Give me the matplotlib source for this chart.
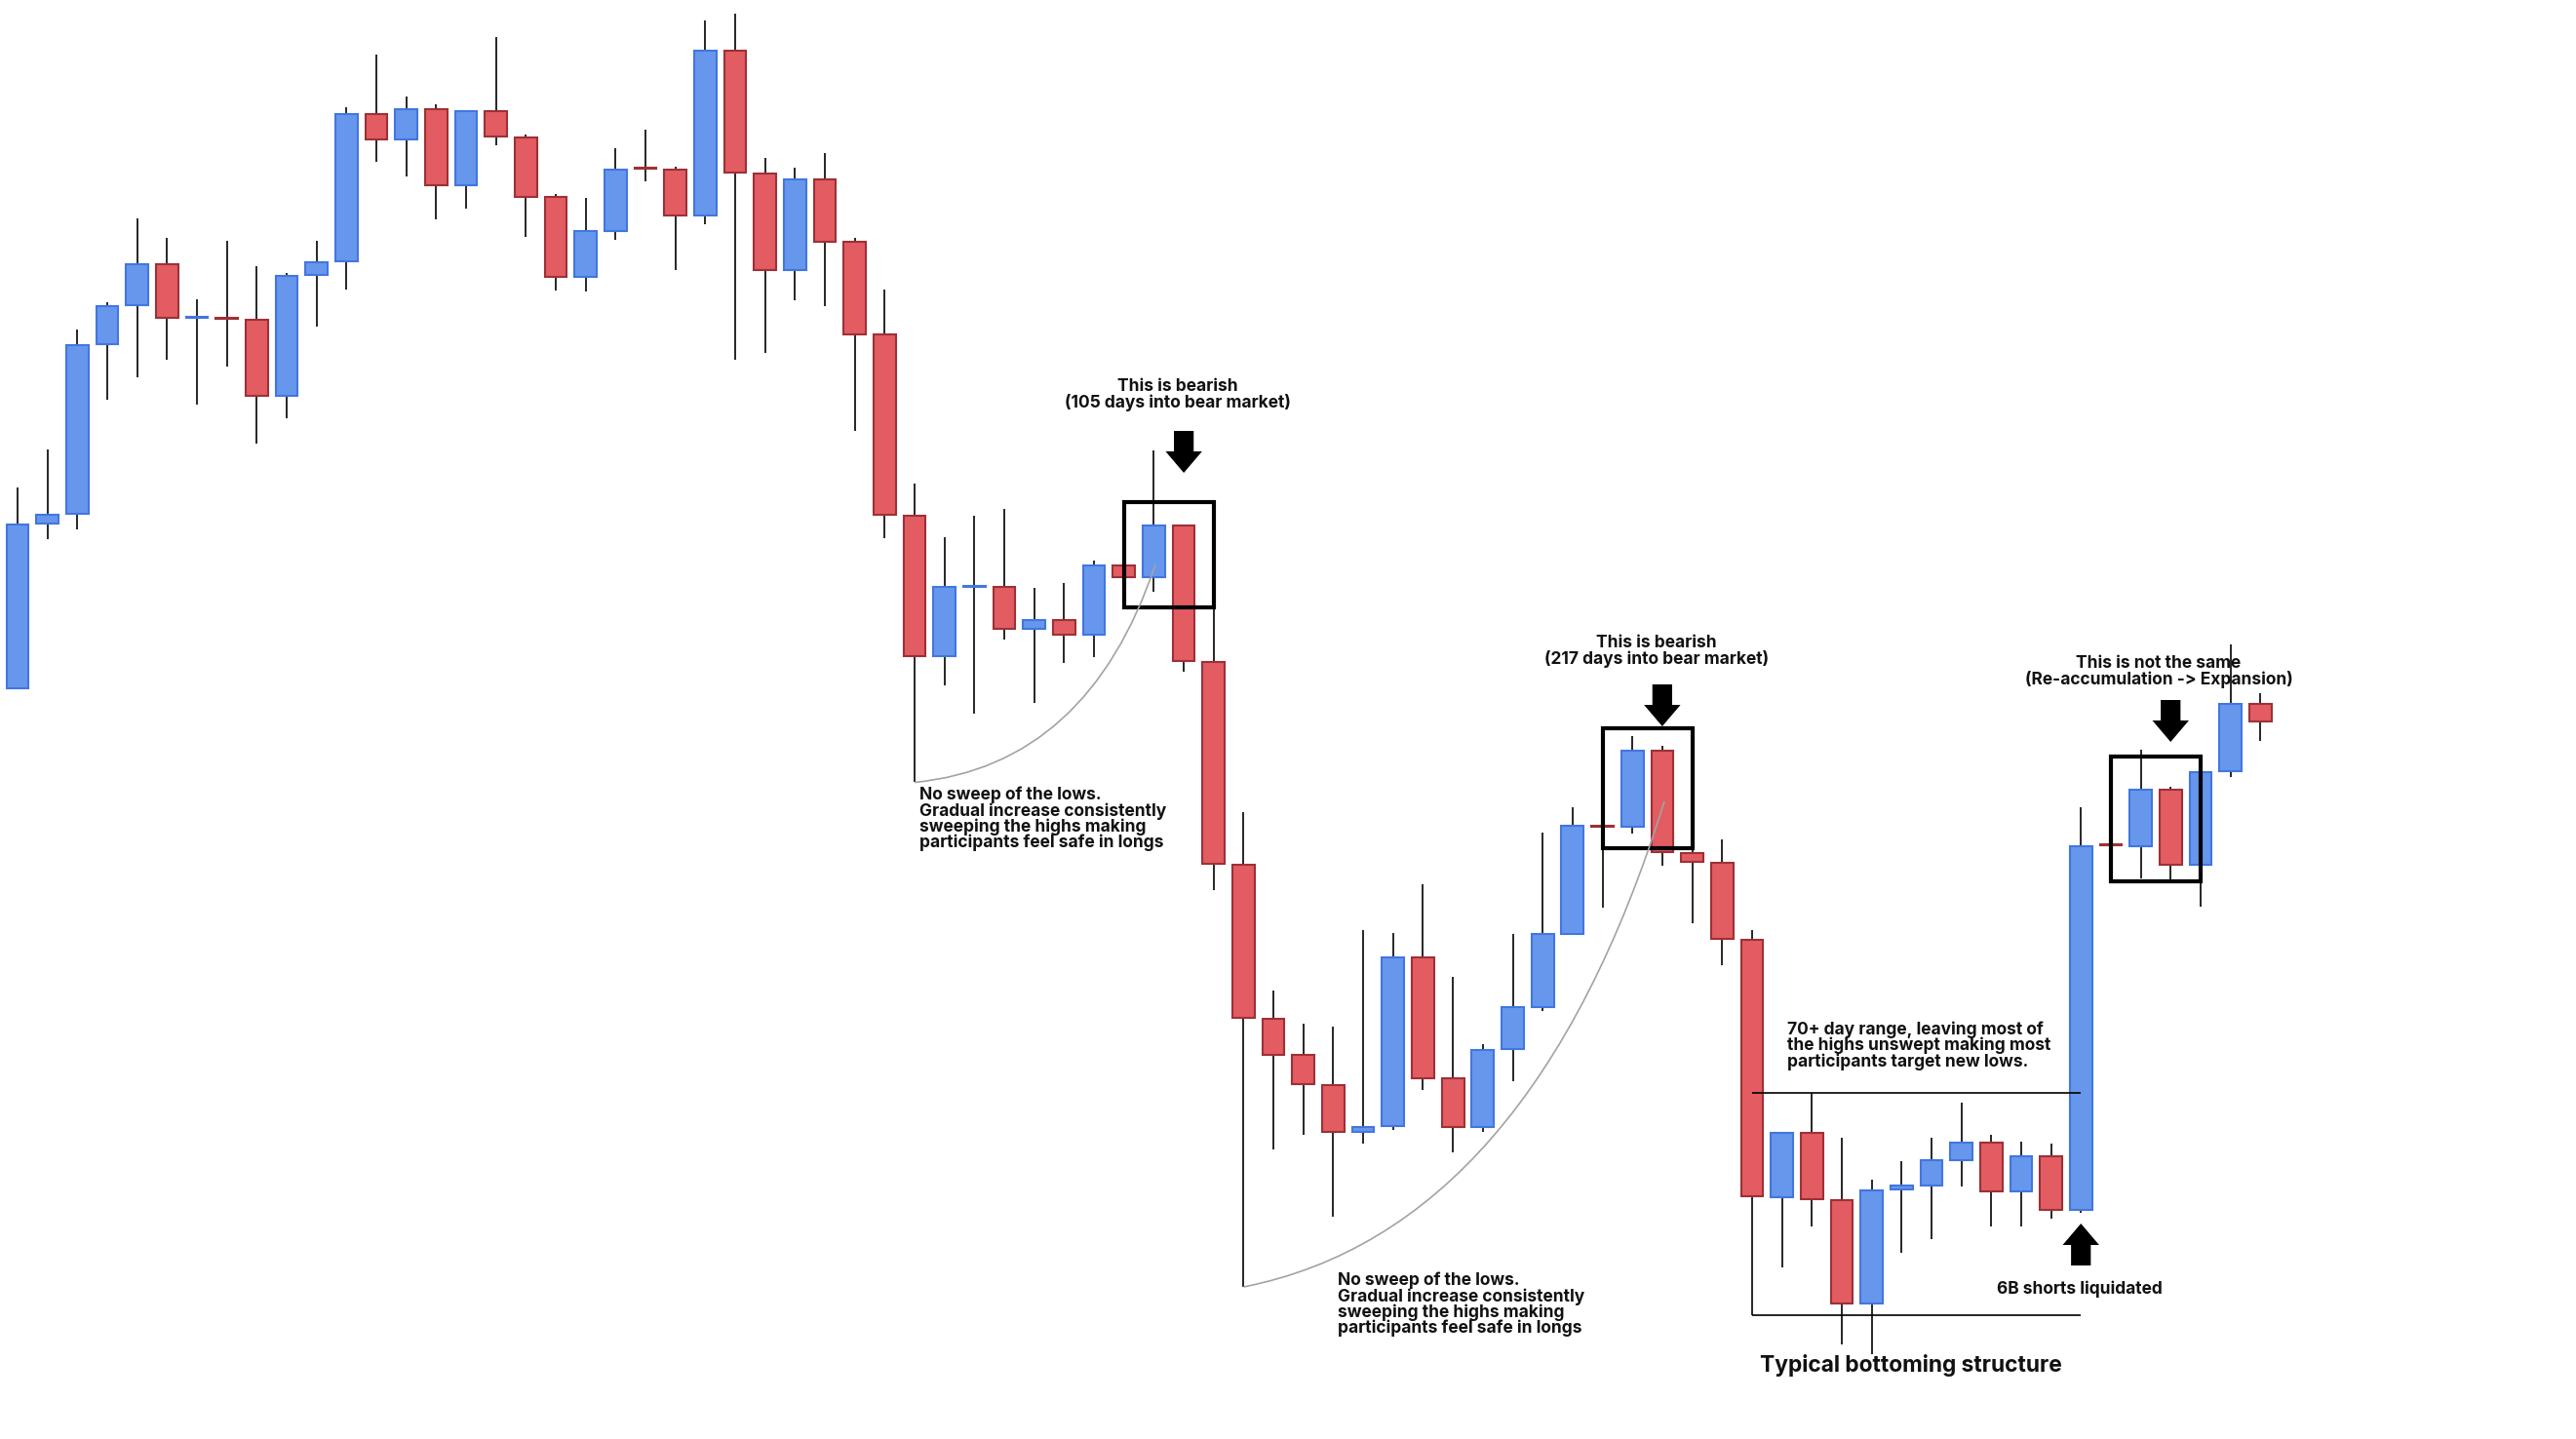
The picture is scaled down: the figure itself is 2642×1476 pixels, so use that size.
import numpy as np
import matplotlib.pyplot as plt
from matplotlib.path import Path
from matplotlib.patches import PathPatch, Rectangle

# candle values: depth below the top edge (px of the 2642x1476 image)
opens = [706, 537, 527, 353, 313, 271, 326, 326, 328, 406,
         282, 268, 117, 143, 112, 190, 114, 141, 202, 284,
         237, 172, 174, 221, 52, 178, 277, 184, 248, 343,
         529, 673, 602, 602, 645, 636, 651, 580, 592, 539,
         679, 887, 1045, 1082, 1113, 1161, 1155, 982, 1106, 1156,
         1076, 1033, 958, 847, 848, 770, 875, 885, 964, 1228,
         1162, 1231, 1337, 1220, 1216, 1190, 1172, 1222, 1186, 1241,
         866, 868, 810, 887, 791, 722]
highs = [500, 461, 338, 310, 224, 244, 307, 247, 273, 280,
         247, 110, 56, 99, 107, 114, 38, 138, 199, 203,
         152, 133, 171, 21, 14, 162, 172, 157, 244, 297,
         496, 551, 529, 522, 603, 598, 575, 580, 462, 539,
         625, 833, 1016, 1050, 1053, 954, 957, 907, 1002, 1071,
         958, 854, 828, 847, 755, 765, 870, 861, 954, 1161,
         1121, 1167, 1210, 1191, 1167, 1131, 1164, 1171, 1173, 828,
         866, 769, 807, 774, 661, 711]
lows = [706, 553, 543, 410, 387, 369, 415, 376, 455, 429,
        335, 297, 166, 181, 225, 214, 149, 243, 298, 299,
        246, 186, 277, 230, 369, 362, 308, 314, 442, 552,
        802, 703, 732, 656, 721, 680, 674, 592, 607, 689,
        913, 1320, 1179, 1164, 1248, 1173, 1159, 1118, 1182, 1161,
        1109, 1037, 959, 931, 855, 888, 947, 990, 1349, 1300,
        1258, 1379, 1389, 1285, 1271, 1217, 1258, 1258, 1250, 1244,
        867, 901, 903, 930, 797, 760]
closes = [538, 528, 354, 314, 271, 326, 325, 327, 406, 283,
          269, 117, 143, 112, 190, 114, 140, 202, 284, 237,
          174, 173, 221, 52, 177, 277, 184, 248, 343, 528,
          673, 602, 601, 645, 636, 651, 580, 592, 539, 678,
          886, 1044, 1082, 1112, 1161, 1156, 982, 1106, 1156, 1077,
          1033, 958, 847, 848, 770, 874, 884, 963, 1227, 1162,
          1230, 1337, 1221, 1216, 1190, 1172, 1222, 1186, 1241, 868,
          867, 810, 887, 792, 722, 740]

# annotation anchors (candle index, depth)
box_left = [37, 53, 70]
box_top = [515, 747, 776]
box_bottom = [623, 870, 904]
down_arrow_col = [39, 55, 72]
down_arrow_tip = [485, 745, 761]
up_arrow_col = 69
up_arrow_tip = 1255
range_from, range_to = 58, 69
range_high, range_low = 1121, 1349

blue, blue_edge = '#6797ED', '#4276E0'
red, red_edge = '#E25C62', '#9E3037'
wick = '#262626'

plt.rcParams['font.family'] = ['Inter', 'DejaVu Sans']

fig = plt.figure(figsize=(13.21, 7.38), dpi=200)
ax = fig.add_axes([0, 0, 1, 1])
ax.set_xlim(-18 / 30.67, (2642 - 18) / 30.67)
ax.set_ylim(1476, 0)
ax.axis('off')

o = np.array(opens, float)
h = np.array(highs, float)
l = np.array(lows, float)
c = np.array(closes, float)
x = np.arange(len(o))
up = c < o

ax.vlines(x, h, l, color=wick, lw=0.7, zorder=1)
ax.bar(x, np.maximum(np.abs(o - c), 1), bottom=np.minimum(o, c), width=0.74,
       color=np.where(up, blue, red), edgecolor=np.where(up, blue_edge, red_edge),
       lw=0.75, zorder=2)

### boxes round the candles in question
for bl, bt, bb in zip(box_left, box_top, box_bottom):
    ax.add_patch(Rectangle((bl, bt), 3, bb - bt, fill=False, ec='black', lw=1.5, zorder=3))

def block_arrow(xi, tip, down=True):
    s = 1 if down else -1
    sw, hw = 0.33, 0.61
    base = tip - s * 22
    tail = tip - s * 43
    pts = [(xi - sw, tail), (xi + sw, tail), (xi + sw, base), (xi + hw, base),
           (xi, tip), (xi - hw, base), (xi - sw, base)]
    ax.fill(*zip(*pts), color='black', lw=0, zorder=4)

for xi, tip in zip(down_arrow_col, down_arrow_tip):
    block_arrow(xi, tip)
block_arrow(up_arrow_col, up_arrow_tip, down=False)

### curves from the lows to the bearish candle
for p0, p1, p2 in [((30, 802.5), (35.8, 785), (38.05, 579)),
                   ((41, 1320), (50.6, 1262), (55.07, 822))]:
    path = Path([p0, p1, p2], [Path.MOVETO, Path.CURVE3, Path.CURVE3])
    ax.add_patch(PathPatch(path, fill=False, ec='#a3a3a3', lw=0.6, zorder=3))

### range lines
ax.hlines([range_high, range_low], range_from, range_to, color='black', lw=0.6, zorder=3)

tk = dict(fontsize=6.25, fontweight='bold', color='#111111', linespacing=0.92, zorder=5)
ax.text(38.8, 405, 'This is bearish\n(105 days into bear market)', ha='center', va='center', **tk)
ax.text(54.8, 668, 'This is bearish\n(217 days into bear market)', ha='center', va='center', **tk)
ax.text(71.6, 689, 'This is not the same\n(Re-accumulation -> Expansion)', ha='center', va='center', **tk)
note = 'No sweep of the lows.\nGradual increase consistently\nsweeping the highs making\nparticipants feel safe in longs'
ax.text(30.16, 840, note, ha='left', va='center', **tk)
ax.text(44.15, 1338, note, ha='left', va='center', **tk)
ax.text(59.18, 1072.5, '70+ day range, leaving most of\nthe highs unswept making most\nparticipants target new lows.',
        ha='left', va='center', **tk)
ax.text(68.96, 1322, '6B shorts liquidated', ha='center', va='center', **tk)
ax.text(63.3, 1401, 'Typical bottoming structure', ha='center', va='center',
        fontsize=8.2, fontweight='bold', color='#111111')

fig.savefig('out.png', dpi=200, facecolor='white')
